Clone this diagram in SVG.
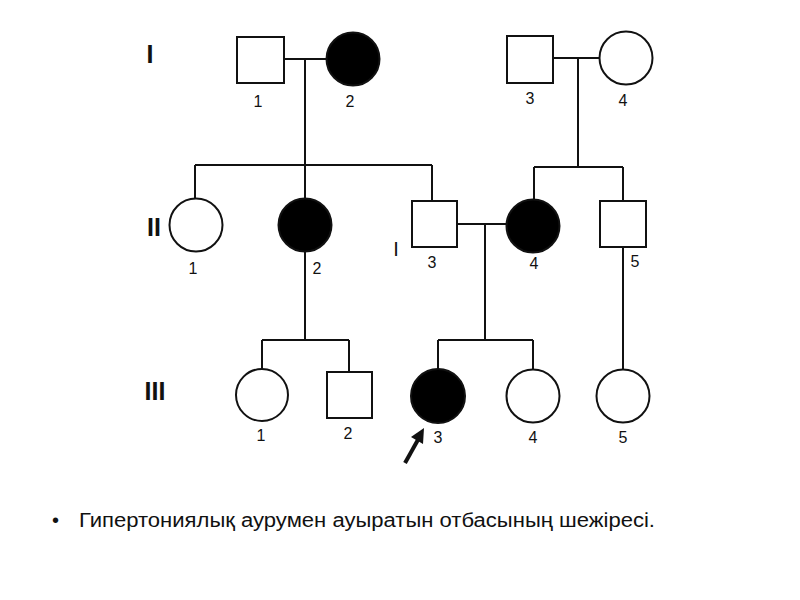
<svg xmlns="http://www.w3.org/2000/svg" width="800" height="600" viewBox="0 0 800 600">
<style>
.m{fill:#fff;stroke:#111;stroke-width:2}
.a{fill:#000;stroke:#111;stroke-width:2}
.f{fill:#fff;stroke:#111;stroke-width:2}
.l{fill:none;stroke:#111;stroke-width:2}
.n{font-family:"Liberation Sans",Arial,sans-serif;font-size:16px;fill:#111;text-anchor:middle}
.g{font-family:"Liberation Sans",Arial,sans-serif;font-size:25px;font-weight:bold;fill:#111;text-anchor:middle}
.c{font-family:"Liberation Sans",Arial,sans-serif;font-size:20px;fill:#111}
</style>
<rect width="800" height="600" fill="#fff"/>
<g id="generations">
<text class="g" x="150" y="63">I</text>
<text class="g" x="154" y="236">II</text>
<text class="g" x="155" y="400">III</text>
</g>
<g id="connectors">
<path class="l" d="M284 59H327M305 59V165M195 165H432M195 165V198M305 165V198M432 165V201"/>
<path class="l" d="M553 58H599M578 58V167M534 167H623M534 167V199M623 167V201"/>
<path class="l" d="M457 224H507M485 224V340M438 340H533M438 340V369M533 340V369"/>
<path class="l" d="M305 252V340M262 340H349M262 340V369M349 340V372"/>
<path class="l" d="M623 247V369"/>
</g>
<g id="I-1"><rect class="m" x="237" y="37" width="47" height="46"/><text class="n" x="258" y="107">1</text></g>
<g id="I-2"><circle class="a" cx="353" cy="59" r="26.5"/><text class="n" x="350" y="107">2</text></g>
<g id="I-3"><rect class="m" x="507" y="36" width="46" height="47"/><text class="n" x="530" y="104">3</text></g>
<g id="I-4"><circle class="f" cx="626" cy="58" r="26.5"/><text class="n" x="623" y="106">4</text></g>
<g id="II-1"><circle class="f" cx="196" cy="225" r="26.5"/><text class="n" x="193" y="274">1</text></g>
<g id="II-2"><circle class="a" cx="305" cy="225" r="26.5"/><text class="n" x="317" y="274">2</text></g>
<g id="II-3"><rect class="m" x="412" y="201" width="45" height="46"/><text class="n" x="432" y="268">3</text><text class="n" x="396" y="256" style="font-size:20px">I</text></g>
<g id="II-4"><circle class="a" cx="533" cy="226" r="26.5"/><text class="n" x="534" y="269">4</text></g>
<g id="II-5"><rect class="m" x="600" y="201" width="46" height="46"/><text class="n" x="635" y="267">5</text></g>
<g id="III-1"><circle class="f" cx="262" cy="395" r="26"/><text class="n" x="261" y="441">1</text></g>
<g id="III-2"><rect class="m" x="327" y="372" width="45" height="46"/><text class="n" x="348" y="439">2</text></g>
<g id="III-3"><circle class="a" cx="438" cy="396" r="27"/><text class="n" x="438" y="443">3</text>
<path d="M405 463L419 438" stroke="#111" stroke-width="4" fill="none"/><polygon points="424,428 423,444 411,437" fill="#111"/></g>
<g id="III-4"><circle class="f" cx="533" cy="396" r="26.5"/><text class="n" x="533" y="443">4</text></g>
<g id="III-5"><circle class="f" cx="623" cy="396" r="26.5"/><text class="n" x="623" y="443">5</text></g>
<g id="caption">
<text class="c" x="52" y="527">•</text>
<text class="c" x="79" y="527" textLength="576" lengthAdjust="spacingAndGlyphs">Гипертониялық аурумен ауыратын отбасының шежіресі.</text>
</g>
</svg>
